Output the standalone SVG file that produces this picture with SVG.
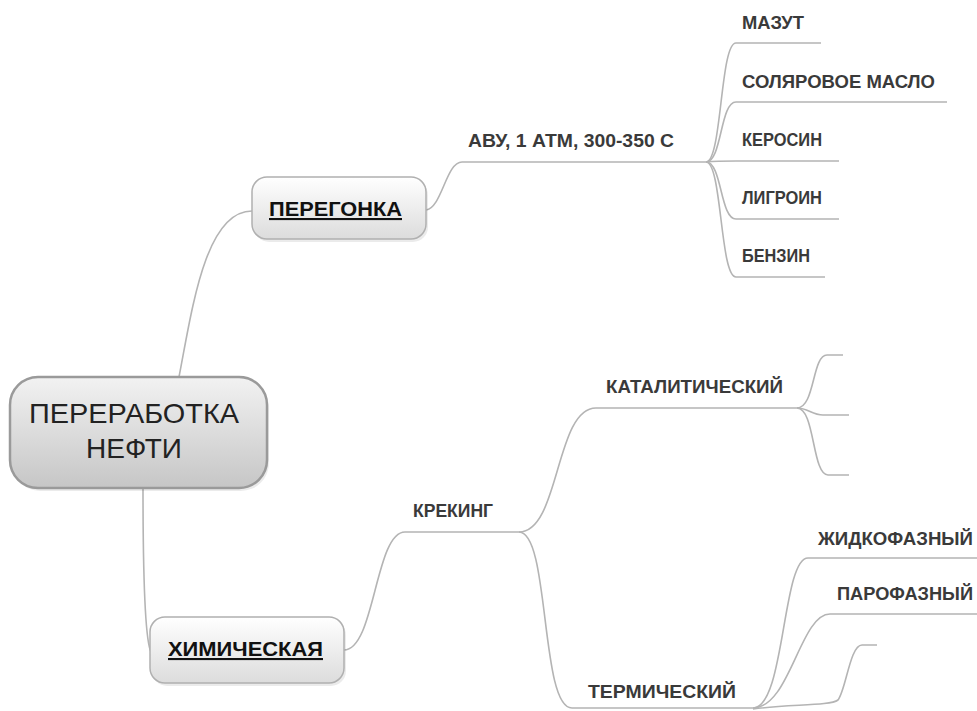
<svg xmlns="http://www.w3.org/2000/svg" width="977" height="711" viewBox="0 0 977 711">
<defs>
<linearGradient id="gMain" x1="0" y1="0" x2="0" y2="1">
<stop offset="0" stop-color="#f2f2f2"/>
<stop offset="1" stop-color="#c6c6c6"/>
</linearGradient>
<linearGradient id="gSub" x1="0" y1="0" x2="0" y2="1">
<stop offset="0" stop-color="#ffffff"/>
<stop offset="1" stop-color="#dcdcdc"/>
</linearGradient>
</defs>
<style>
.conn path{fill:none;stroke:#b4b4b4;stroke-width:1.6}
.lbl{font-family:"Liberation Sans",Arial,sans-serif;font-weight:bold;font-size:19px;fill:#3a3a3a}
.main{font-family:"Liberation Sans",Arial,sans-serif;font-weight:bold;font-size:21px;fill:#111;text-decoration:underline}
.center{font-family:"Liberation Sans",Arial,sans-serif;font-size:28px;fill:#222}
.box{fill:url(#gSub);stroke:#b0b0b0;stroke-width:1.5}
.cbox{fill:url(#gMain);stroke:#9a9a9a;stroke-width:2.5}
.shadow{fill:#000;opacity:0.08}
</style>
<rect width="977" height="711" fill="#fff"/>
<g id="connectors" class="conn">
<path d="M179,377 C192,310 205,211 252,211"/>
<path d="M143,488 C143,570 145,640 151,652"/>
<path d="M426,210 C442,208 446,162 462,162 H706"/>
<path d="M706,162 C722,162 720,43 736,43 H821"/>
<path d="M706,162 C722,162 720,102 736,102 H947"/>
<path d="M706,162 C716,161 724,161 736,161 H839"/>
<path d="M706,162 C722,162 720,219 736,219 H839"/>
<path d="M706,162 C722,162 720,277 736,277 H825"/>
<path d="M344,650 C375,650 375,532 405,532 H519"/>
<path d="M519,532 C560,532 555,408 596,408 H797"/>
<path d="M519,532 C550,532 540,708 572,708 H753"/>
<path d="M797,408 C815,408 812,355 827,355 H843"/>
<path d="M797,408 C808,408 812,415 823,415 H849"/>
<path d="M797,408 C815,408 812,475 828,475 H849"/>
<path d="M753,708 C785,708 782,558 808,558 H977"/>
<path d="M753,708 C790,708 800,614 830,614 H977"/>
<path d="M753,709 C790,704 830,706 838,700 C846,690 850,645 862,645 H877"/>
</g>
<g id="node-root">
<rect class="shadow" x="12" y="380" width="257" height="111" rx="28"/>
<rect class="cbox" x="10" y="377" width="257" height="111" rx="28"/>
<text class="center" x="134" y="423" text-anchor="middle" textLength="210" lengthAdjust="spacingAndGlyphs">ПЕРЕРАБОТКА</text>
<text class="center" x="134" y="458" text-anchor="middle">НЕФТИ</text>
</g>
<g id="node-peregonka">
<rect class="shadow" x="254" y="180" width="174" height="62" rx="15"/>
<rect class="box" x="252" y="177" width="174" height="62" rx="15"/>
<text class="main" x="269" y="216" textLength="133" lengthAdjust="spacingAndGlyphs">ПЕРЕГОНКА</text>
</g>
<g id="node-himicheskaya">
<rect class="shadow" x="152" y="620" width="194" height="66" rx="15"/>
<rect class="box" x="150" y="617" width="194" height="66" rx="15"/>
<text class="main" x="168" y="656" textLength="155" lengthAdjust="spacingAndGlyphs">ХИМИЧЕСКАЯ</text>
</g>
<g id="node-avu">
<text class="lbl" x="468" y="147" textLength="206" lengthAdjust="spacingAndGlyphs">АВУ, 1 АТМ, 300-350 С</text>
</g>
<g id="node-mazut">
<text class="lbl" x="742" y="29" textLength="62" lengthAdjust="spacingAndGlyphs">МАЗУТ</text>
</g>
<g id="node-solyar">
<text class="lbl" x="742" y="88" textLength="193" lengthAdjust="spacingAndGlyphs">СОЛЯРОВОЕ МАСЛО</text>
</g>
<g id="node-kerosin">
<text class="lbl" x="742" y="146" textLength="80" lengthAdjust="spacingAndGlyphs">КЕРОСИН</text>
</g>
<g id="node-ligroin">
<text class="lbl" x="742" y="204" textLength="80" lengthAdjust="spacingAndGlyphs">ЛИГРОИН</text>
</g>
<g id="node-benzin">
<text class="lbl" x="742" y="262" textLength="68" lengthAdjust="spacingAndGlyphs">БЕНЗИН</text>
</g>
<g id="node-kreking">
<text class="lbl" x="413" y="517" textLength="80" lengthAdjust="spacingAndGlyphs">КРЕКИНГ</text>
</g>
<g id="node-katalit">
<text class="lbl" x="606" y="393" textLength="177" lengthAdjust="spacingAndGlyphs">КАТАЛИТИЧЕСКИЙ</text>
</g>
<g id="node-termich">
<text class="lbl" x="588" y="698" textLength="148" lengthAdjust="spacingAndGlyphs">ТЕРМИЧЕСКИЙ</text>
</g>
<g id="node-zhidko">
<text class="lbl" x="818" y="545" textLength="155" lengthAdjust="spacingAndGlyphs">ЖИДКОФАЗНЫЙ</text>
</g>
<g id="node-paro">
<text class="lbl" x="837" y="600" textLength="136" lengthAdjust="spacingAndGlyphs">ПАРОФАЗНЫЙ</text>
</g>
<g id="node-kat1"/>
<g id="node-kat2"/>
<g id="node-kat3"/>
<g id="node-term3"/>
</svg>
